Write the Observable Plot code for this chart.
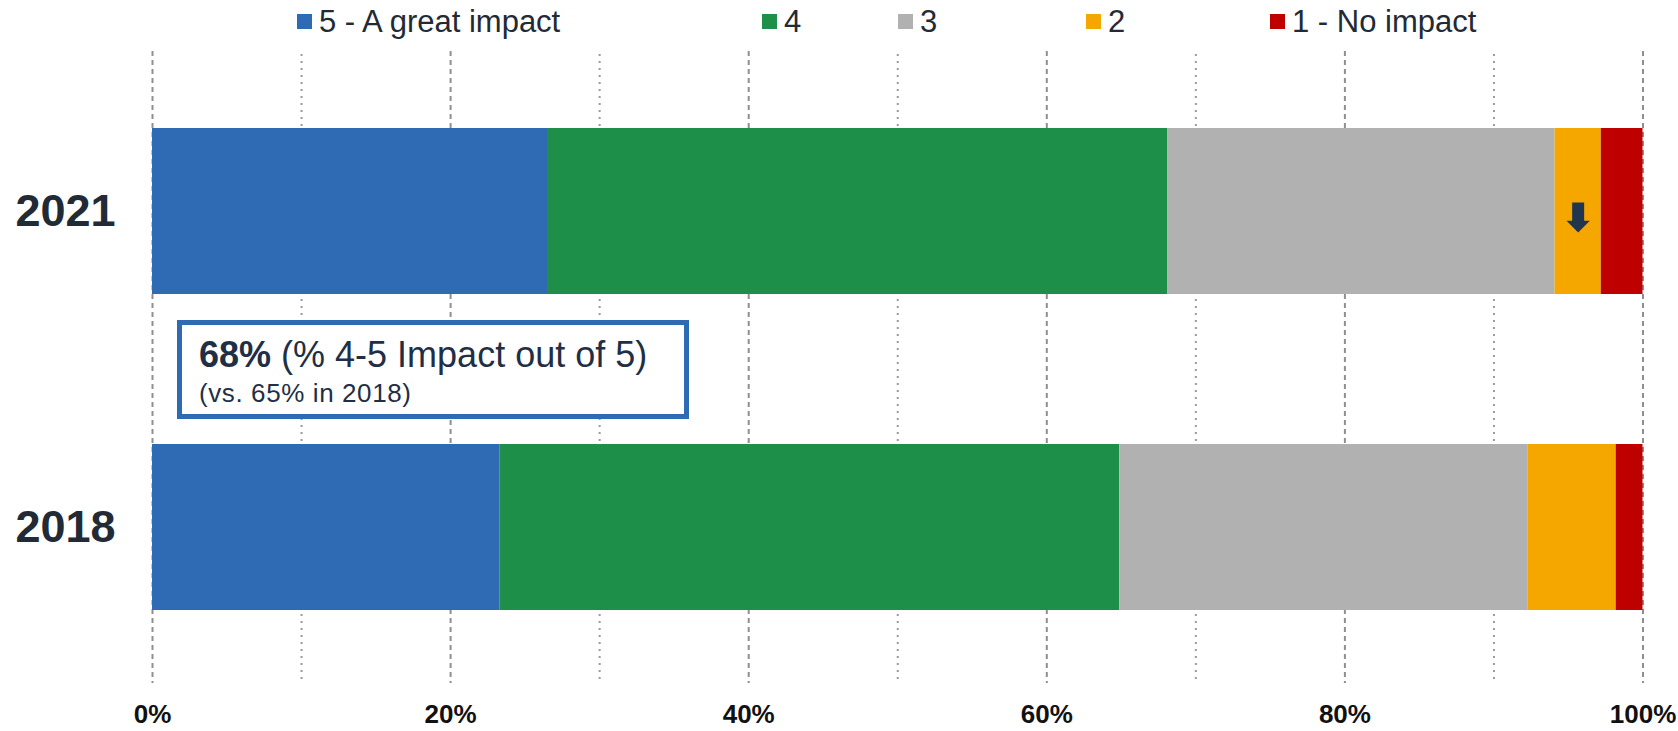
<!DOCTYPE html>
<html>
<head>
<meta charset="utf-8">
<script src="https://cdn.jsdelivr.net/npm/d3@7"></script>
<script src="https://cdn.jsdelivr.net/npm/@observablehq/plot@0.6"></script>
<style>
  body { margin: 0; background: #fff; font-family: "Liberation Sans", Arial, sans-serif; }
  #wrap { position: relative; width: 1678px; height: 731px; overflow: hidden; background: #fff; }
  #legend { position: relative; height: 46px; }
  .item { position: absolute; top: 14px; height: 15px; display: flex; align-items: center;
          font-size: 31px; color: #222a35; white-space: nowrap; }
  .sw { width: 15px; height: 15px; margin-right: 7px; flex: none; }
  #note { position: absolute; left: 177px; top: 320px; width: 512px; height: 99px; box-sizing: border-box;
          border: 5px solid #2f6bb5; background: #fff; color: #1f2f45; }
  #note .l1 { position: absolute; left: 17px; top: 9px; font-size: 36px; white-space: nowrap; }
  #note .l2 { position: absolute; left: 17px; top: 53px; font-size: 26px; letter-spacing: 0.6px; white-space: nowrap; }
  svg { display: block; }
</style>
</head>
<body>
<div id="wrap">
  <div id="legend"></div>
  <div id="chart"></div>
  <div id="note"></div>
</div>
<script>
// Survey years, rating levels and the share of answers (%) at each level
const years = ["2021", "2018"];
const levels = ["5 - A great impact", "4", "3", "2", "1 - No impact"];
const levelColors = ["#2f6bb5", "#1e8f48", "#b1b1b1", "#f5a700", "#bf0000"];
const share2021 = [26.5, 41.6, 26.0, 3.1, 2.8];
const share2018 = [23.3, 41.6, 27.4, 5.9, 1.8];
const xTicks = [0, 20, 40, 60, 80, 100];
const minorTicks = [10, 30, 50, 70, 90];

const shares = {"2021": share2021, "2018": share2018};
const rows = years.flatMap(year => levels.map((level, i) => ({year, level, value: shares[year][i]})));

// Legend across the top
const legendLeft = [297, 762, 898, 1086, 1270];
const legend = document.getElementById("legend");
levels.forEach((level, i) => {
  const item = document.createElement("div");
  item.className = "item";
  item.style.left = legendLeft[i] + "px";
  const sw = document.createElement("span");
  sw.className = "sw";
  sw.style.background = levelColors[i];
  const label = document.createElement("span");
  label.textContent = level;
  item.append(sw, label);
  legend.append(item);
});

// Down arrow marking the drop in "2" answers, centred on that 2021 segment
const arrowX = d3.sum(share2021.slice(0, 3)) + share2021[3] / 2;
const downArrow = {
  draw(ctx) {
    ctx.moveTo(-6, -15);
    ctx.lineTo(6, -15);
    ctx.lineTo(6, 3.3);
    ctx.lineTo(11.7, 3.3);
    ctx.lineTo(0, 15);
    ctx.lineTo(-11.7, 3.3);
    ctx.lineTo(-6, 3.3);
    ctx.closePath();
  }
};

const chart = Plot.plot({
  width: 1678,
  height: 685,
  marginLeft: 152,
  marginRight: 35.5,
  marginTop: 5,
  marginBottom: 48,
  style: {fontFamily: "'Liberation Sans', Arial, sans-serif", background: "#fff"},
  x: {domain: [0, 100], label: null},
  y: {domain: years, paddingInner: 0.4752, paddingOuter: 0.2367, align: 0.51, label: null},
  color: {domain: levels, range: levelColors},
  marks: [
    Plot.ruleX(minorTicks, {stroke: "#9a9a9a", strokeWidth: 2, strokeDasharray: "2,5", insetTop: 3, insetBottom: 4}),
    Plot.ruleX(xTicks, {stroke: "#8f8f8f", strokeWidth: 2, strokeDasharray: "5,4"}),
    Plot.barX(rows, Plot.stackX({x: "value", y: "year", fill: "level", order: null})),
    Plot.dot([{year: "2021", x: arrowX}], {x: "x", y: "year", symbol: downArrow, fill: "#1f3550", stroke: null, dy: 6}),
    Plot.axisX({ticks: xTicks, tickFormat: d => d + "%", tickSize: 0, tickPadding: 21, fontSize: 26,
                fontWeight: "bold", color: "#111", label: null}),
    Plot.axisY({tickSize: 0, tickPadding: 37, fontSize: 45, fontWeight: "bold", color: "#222a35", label: null})
  ]
});
document.getElementById("chart").append(chart);

// Summary box: share of 4–5 ratings this year vs. 2018
const top2021 = Math.round(share2021[0] + share2021[1]);
const top2018 = Math.round(share2018[0] + share2018[1]);
const note = document.getElementById("note");
note.innerHTML = `<div class="l1"><b>${top2021}%</b> (% 4-5 Impact out of 5)</div>` +
                 `<div class="l2">(vs. ${top2018}% in 2018)</div>`;
</script>
</body>
</html>
